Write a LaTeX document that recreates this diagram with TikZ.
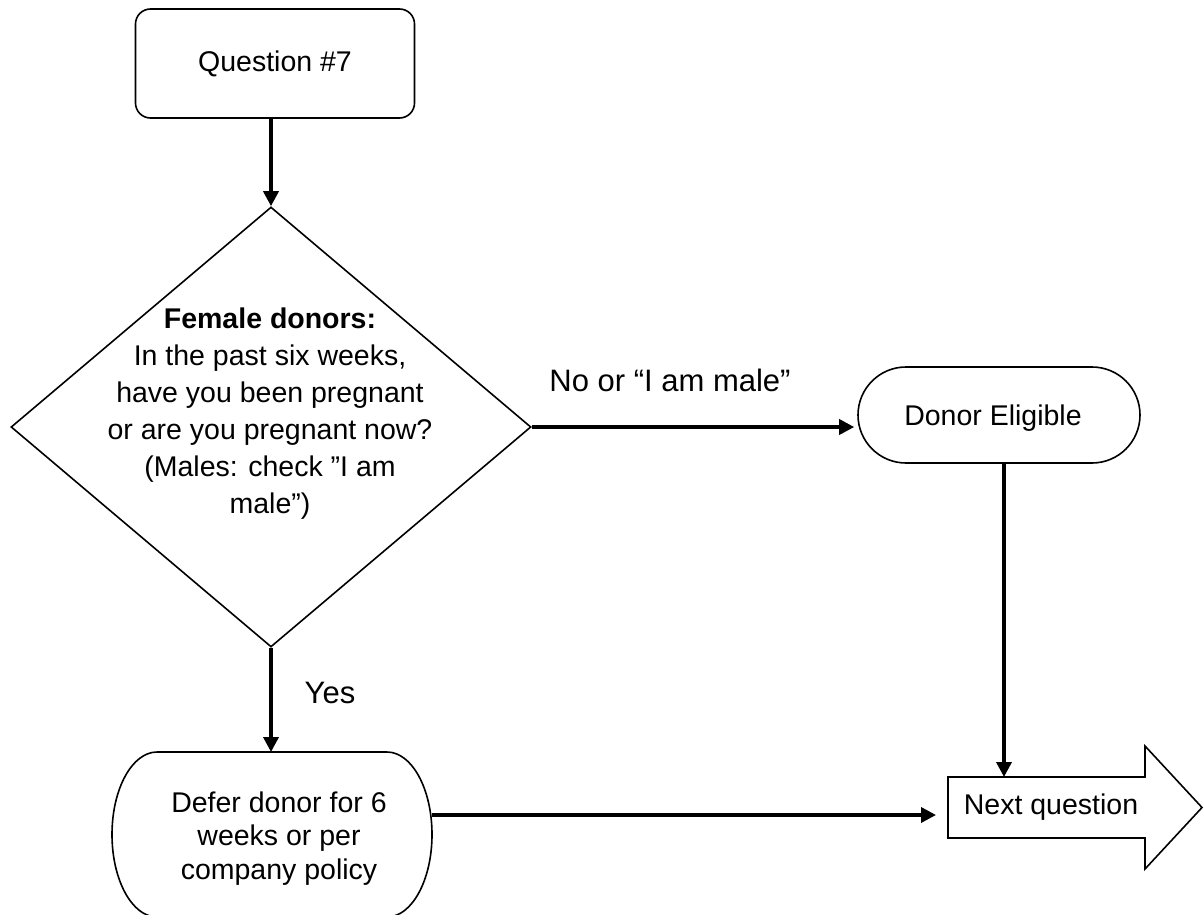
\documentclass[tikz,border=0pt]{standalone}
\usepackage{fontspec}
\setmainfont{Liberation Sans}
\usetikzlibrary{arrows.meta,shapes.geometric,shapes.misc}
\begin{document}
\begin{tikzpicture}[x=1pt,y=-1pt,
  shapeline/.style={draw=black,line width=1.6pt},
  conn/.style={line width=3.5pt,-{Triangle[length=15pt,width=15pt]}},
  nodetext/.style={font=\fontsize{28.5pt}{34pt}\selectfont,align=center,inner sep=0pt},
  lbl/.style={font=\fontsize{31pt}{36pt}\selectfont,inner sep=0pt}]
\useasboundingbox (0,0) rectangle (1204,915);
% start box
\node[shapeline,rounded corners=15pt,minimum width=279pt,minimum height=109pt,inner sep=0pt,nodetext] (q7) at (275,63.5) {Question \#7};
% decision
\node[shapeline,diamond,minimum width=520pt,minimum height=440pt,inner sep=0pt] (dec) at (271,427) {};
\node[nodetext,font=\fontsize{28.5pt}{37pt}\selectfont] (dectext) at (270,413.5) {\textbf{Female donors:}\\In the past six weeks,\\have you been pregnant\\or are you pregnant now?\\(Males: check ”I am\\male”)};
% donor eligible
\node[shapeline,rounded rectangle,minimum width=282pt,minimum height=96pt,inner sep=0pt] (elig) at (999,415) {};
\node[nodetext] (eligtext) at (993,418) {Donor Eligible};
% defer box
\draw[shapeline] (157,752) -- (387,752) arc[start angle=90,end angle=-90,x radius=45pt,y radius=82.5pt] -- (157,917) arc[start angle=270,end angle=90,x radius=45pt,y radius=82.5pt] -- cycle;
\node[nodetext,font=\fontsize{28.5pt}{33.5pt}\selectfont] (defer) at (279,838.5) {Defer donor for 6\\weeks or per\\company policy};
% next question block arrow
\draw[shapeline] (948,777) -- (1145,777) -- (1145,746) -- (1202,807.5) -- (1145,869) -- (1145,838) -- (948,838) -- cycle;
\node[nodetext] (next) at (1051,807) {Next question};
% connector endpoints
\coordinate (dtop) at (271,752);
\coordinate (dright) at (432,815);
\coordinate (nqleft) at (936,815);
\coordinate (nqin) at (1004,777);
% connectors
\draw[conn] (dec.north |- q7.south) -- (dec.north);
\draw[conn] (dec.east) -- ([xshift=-3pt]elig.west |- dec.east);
\draw[conn] (dec.south) -- (dtop);
\draw[conn] (elig.south -| nqin) -- (nqin);
\draw[conn] (dright) -- (nqleft);
% labels
\node[lbl] (nolbl) at (670,380) {No or “I am male”};
\node[lbl] (yeslbl) at (330,693) {Yes};
\end{tikzpicture}
\end{document}
